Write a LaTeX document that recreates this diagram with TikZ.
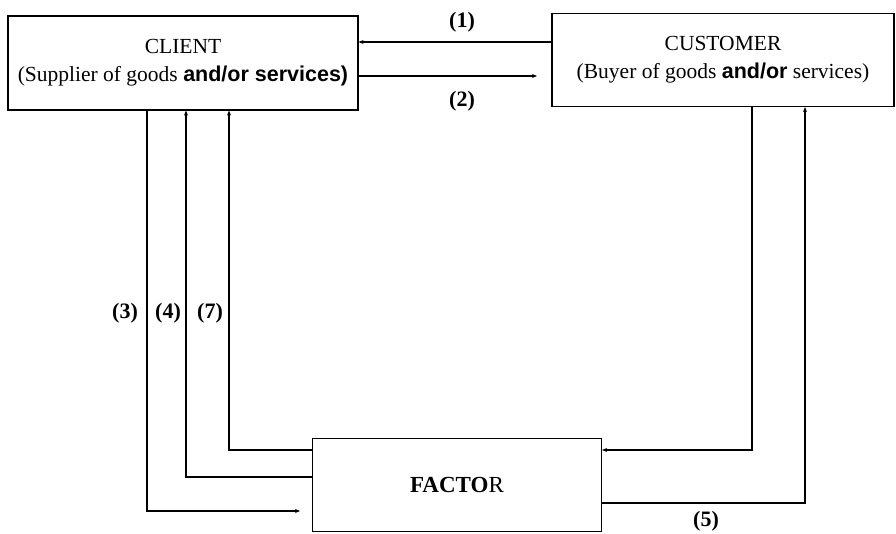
\documentclass[tikz,border=0pt]{standalone}
\usepackage{fontspec}
\setmainfont{Liberation Serif}
\newfontfamily\boldsans{Liberation Sans}
\usetikzlibrary{positioning, arrows.meta}

\begin{document}
\begin{tikzpicture}[
    x=1pt, y=-1pt,
    party/.style={rectangle, draw, line width=1.2pt, align=center,
        font=\fontsize{21.5}{28}\selectfont},
    link/.style={line width=1.1pt},
    flow/.style={link, -{Stealth[length=5pt, width=4pt]}},
    num/.style={font=\fontsize{22}{24}\selectfont\bfseries, inner sep=1pt}
]
\useasboundingbox (0,0) rectangle (896,534);

% --- Parties ---
\node[party, minimum width=350pt, minimum height=94pt] (client) at (183,63)
    {CLIENT\\(Supplier of goods {\boldsans\bfseries and/or services)}};
\node[party, minimum width=342pt, minimum height=93pt] (customer) at (723,60)
    {CUSTOMER\\(Buyer of goods {\boldsans\bfseries and/or} services)};
\node[party, minimum width=289pt, minimum height=93pt,
    font=\fontsize{23}{26}\selectfont] (factor) at (457,485)
    {{\bfseries FACTO}R};

% --- Free ends ---
\coordinate (end2) at (537,76);
\coordinate (end3) at (300,511);

% --- Client <-> Customer ---
\draw[flow] (customer.west |- 0,42) -- (client.east |- 0,42);
\draw[flow] (client.east |- 0,76) -- (end2);
\node[num] (n1) at (462,22) {(1)};
\node[num] (n2) at (462,101) {(2)};

% --- Client <-> Factor ---
\draw[flow] (client.south -| 147,0) |- (end3);
\draw[flow] (factor.west |- 0,477) -| (client.south -| 186,0);
\draw[flow] (factor.west |- 0,450) -| (client.south -| 229,0);
\node[num] (n3) at (125,313) {(3)};
\node[num] (n4) at (168,313) {(4)};
\node[num] (n7) at (210,313) {(7)};

% --- Customer <-> Factor ---
\draw[flow] (customer.south -| 752,0) |- (factor.east |- 0,450);
\draw[flow] (factor.east |- 0,503) -| (customer.south -| 805,0);
\node[num] (n5) at (706,521) {(5)};

\end{tikzpicture}
\end{document}
